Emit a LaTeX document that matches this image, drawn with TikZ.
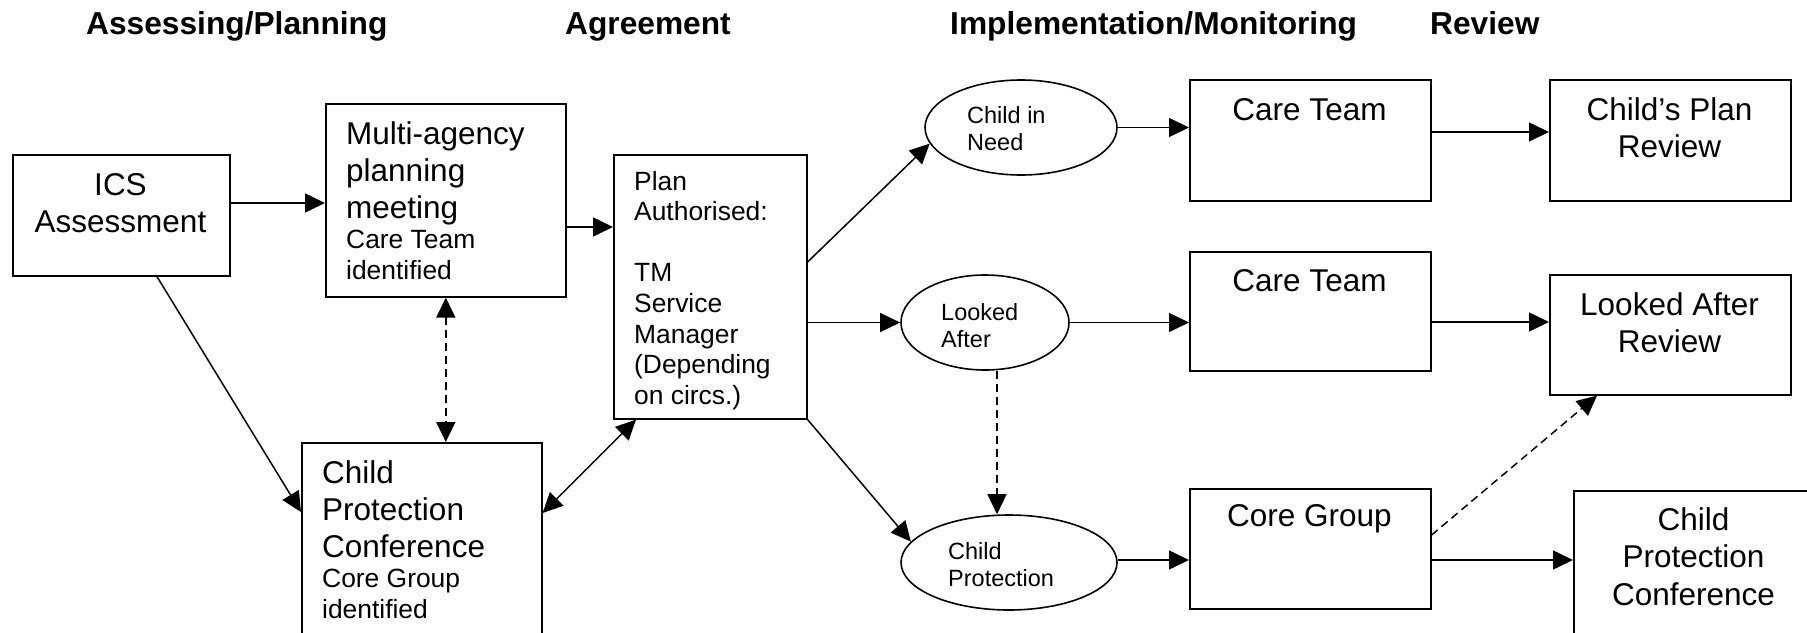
\documentclass[tikz,border=0pt]{standalone}
\usepackage{fontspec}
\setmainfont{Liberation Sans}
\usetikzlibrary{arrows.meta,shapes.geometric}
\newcommand\myL[1]{\hbox{#1}}
\newcommand\myC[1]{\hbox to 0pt{\hss#1\hss}}
\newcommand\fL{\fontsize{31.5}{37}\selectfont}
\newcommand\fM{\fontsize{26.4}{30.6}\selectfont}
\newcommand\fE{\fontsize{23.5}{27.4}\selectfont}
\newcommand\fT{\fontsize{31.7}{37}\selectfont\bfseries}
\tikzset{
  mytri/.tip={Triangle[length=20pt,width=19pt]},
  box/.style={draw, line width=1.6pt, inner sep=0pt, anchor=north west},
  oval/.style={draw, ellipse, line width=1.6pt, inner sep=0pt},
  txt/.style={inner sep=0pt},
  arr/.style={line width=1.5pt, -mytri},
  darr/.style={line width=1.5pt, mytri-mytri},
  dsh/.style={dash pattern=on 8pt off 5pt},
}
\begin{document}
\begin{tikzpicture}[x=1pt, y=-1pt]
\useasboundingbox (0,0) rectangle (1807,632);
% titles
\node[txt, anchor=base west] (t1) at (86,34) {\fT Assessing/Planning};
\node[txt, anchor=base west] (t2) at (565,34) {\fT Agreement};
\node[txt, anchor=base west] (t3) at (950,34) {\fT Implementation/Monitoring};
\node[txt, anchor=base west] (t4) at (1430,34) {\fT Review};
% boxes
\node[box, minimum width=217pt, minimum height=121pt] (ics) at (12,154) {};
\node[box, minimum width=240pt, minimum height=193pt] (multi) at (325,103) {};
\node[box, minimum width=240pt, minimum height=222pt] (cpc) at (301,442) {};
\node[box, minimum width=193pt, minimum height=264pt] (plan) at (613,154) {};
\node[box, minimum width=241pt, minimum height=121pt] (ct1) at (1189,79) {};
\node[box, minimum width=241pt, minimum height=121pt] (cpr) at (1549,79) {};
\node[box, minimum width=241pt, minimum height=119pt] (ct2) at (1189,251) {};
\node[box, minimum width=241pt, minimum height=120pt] (lar) at (1549,274) {};
\node[box, minimum width=241pt, minimum height=120pt] (cg) at (1189,488) {};
\node[box, minimum width=241pt, minimum height=180pt] (cpc2) at (1573,490) {};
% ellipses
\node[oval, minimum width=192pt, minimum height=95pt] (cin) at (1021,127.5) {};
\node[oval, minimum width=168pt, minimum height=95pt] (la) at (985,322.5) {};
\node[oval, minimum width=216pt, minimum height=95pt] (cp) at (1009,562.5) {};
% texts
\node[txt, anchor=base] (icst) at (120.5,195) {\vtop{\fL\myC{ICS}\myC{Assessment}}};
\node[txt, anchor=base west] (multit) at (346,144) {\vtop{\fL\myL{Multi-agency}\myL{planning}\myL{meeting}\fM\myL{Care Team}\myL{identified}}};
\node[txt, anchor=base west] (cpct) at (322,483) {\vtop{\fL\myL{Child}\myL{Protection}\myL{Conference}\fM\myL{Core Group}\myL{identified}}};
\node[txt, anchor=base west] (plant) at (634,190) {\vtop{\fM\myL{Plan}\myL{Authorised:}\myL{}\myL{TM}\myL{Service}\myL{Manager}\myL{(Depending}\myL{on circs.)}}};
\node[txt, anchor=base] (ct1t) at (1309.5,120) {\fL Care Team};
\node[txt, anchor=base] (ct2t) at (1309.5,291) {\fL Care Team};
\node[txt, anchor=base] (cgt) at (1309.5,526.7) {\fL Core Group};
\node[txt, anchor=base] (cprt) at (1669.5,120) {\vtop{\fL\myC{Child’s Plan}\myC{Review}}};
\node[txt, anchor=base] (lart) at (1669.5,315) {\vtop{\fL\myC{Looked After}\myC{Review}}};
\node[txt, anchor=base] (cpc2t) at (1693.5,530) {\vtop{\fontsize{31.5}{37.5}\selectfont\myC{Child}\myC{Protection}\myC{Conference}}};
\node[txt, anchor=base west] (cint) at (967,123.3) {\vtop{\fE\myL{Child in}\myL{Need}}};
\node[txt, anchor=base west] (lat) at (941,320) {\vtop{\fE\myL{Looked}\myL{After}}};
\node[txt, anchor=base west] (cpt) at (948,559) {\vtop{\fE\myL{Child}\myL{Protection}}};
% helper coordinates
\coordinate (y203) at (0,203);
\coordinate (y227) at (0,227);
\coordinate (y512) at (0,512);
\coordinate (y513) at (0,513);
\coordinate (y262) at (0,262);
\coordinate (y132) at (0,132);
\coordinate (y322) at (0,322);
\coordinate (y560) at (0,560);
\coordinate (y535) at (0,535);
\coordinate (x157) at (157,0);
\coordinate (x636) at (636,0);
\coordinate (x997) at (997,0);
\coordinate (x1597) at (1597,0);
% connectors
\draw[arr] (ics.east |- y203) -- (multi.west |- y203);
\draw[arr] (multi.east |- y227) -- (plan.west |- y227);
\draw[arr] (ics.south -| x157) -- (cpc.west |- y512);
\draw[darr, dsh] (multi.south) -- (cpc.north -| multi.south);
\draw[darr] (cpc.east |- y513) -- (plan.south -| x636);
\draw[arr] (plan.east |- y262) -- (cin.190);
\draw[arr] (plan.east |- la.west) -- (la.west);
\draw[arr] (plan.south east) -- (cp.168);
\draw[arr, dsh] (la.south -| x997) -- (cp.north -| x997);
\draw[arr] (cin.east) -- (ct1.west |- cin.east);
\draw[arr] (ct1.east |- y132) -- (cpr.west |- y132);
\draw[arr] (la.east) -- (ct2.west |- la.east);
\draw[arr] (ct2.east |- y322) -- (lar.west |- y322);
\draw[arr] (cp.east |- y560) -- (cg.west |- y560);
\draw[arr] (cg.east |- y560) -- (cpc2.west |- y560);
\draw[arr, dsh] (cg.east |- y535) -- (lar.south -| x1597);
\end{tikzpicture}
\end{document}
